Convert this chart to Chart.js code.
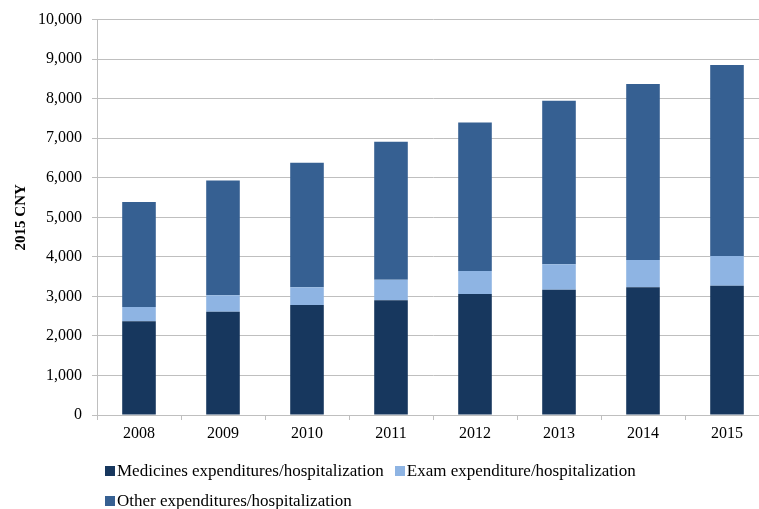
<!DOCTYPE html>
<html>
<head>
<meta charset="utf-8">
<script src="https://cdn.jsdelivr.net/npm/chart.js@4/dist/chart.umd.min.js"></script>
<style>
  html,body{margin:0;padding:0;background:#fff;overflow:hidden}
  .wrap{position:absolute;left:0;top:0;width:770px;height:509px}
  .legend{position:absolute;left:105px;top:461px;width:600px;font-family:"Liberation Serif",serif;font-size:17px;color:#000}
  .legend-item{display:inline-block;margin-right:11px;height:30px;line-height:20px;white-space:nowrap}
  .legend-box{display:inline-block;width:10px;height:10px;margin-right:2px;vertical-align:0px}
</style>
</head>
<body>
<div class="wrap"><canvas id="c" role="img" aria-label="Hospitalization expenditures 2008-2015, 2015 CNY"></canvas></div>
<div class="legend" id="lg"></div>
<script>
const YEARS = ['2008','2009','2010','2011','2012','2013','2014','2015']
const MEDICINES = [2370,2610,2780,2900,3060,3170,3230,3270]
const EXAM = [360,420,450,520,580,640,690,750]
const OTHER = [2660,2900,3150,3490,3760,4140,4450,4830]
const SERIES = ['Medicines expenditures/hospitalization','Exam expenditure/hospitalization','Other expenditures/hospitalization']
const COLORS = ['#17375e','#8eb4e3','#366092']

const gc='#bfbfbf', font='"Liberation Serif", serif'

new Chart(document.getElementById('c'),{
  type:'bar',
  data:{labels:YEARS,datasets:[
    {label:SERIES[0],data:MEDICINES,backgroundColor:COLORS[0]},
    {label:SERIES[1],data:EXAM,backgroundColor:COLORS[1]},
    {label:SERIES[2],data:OTHER,backgroundColor:COLORS[2]},
  ]},
  options:{
    responsive:true, maintainAspectRatio:false, animation:false,
    layout:{padding:{top:17,right:1,left:0,bottom:0}},
    datasets:{bar:{categoryPercentage:1,barPercentage:0.4}},
    plugins:{legend:{display:false},tooltip:{enabled:false}},
    scales:{
      x:{
        stacked:true,
        afterFit:s=>{s.height=94},
        grid:{drawOnChartArea:false,color:gc,tickLength:5},
        border:{color:gc},
        ticks:{color:'#000',font:{family:font,size:16},padding:4}
      },
      y:{
        stacked:true,min:0,max:10000,
        afterFit:s=>{s.width=97},
        grid:{color:gc,tickLength:5},
        border:{color:gc},
        ticks:{stepSize:1000,color:'#000',font:{family:font,size:16},padding:10,
          callback:v=>v.toLocaleString('en-US')},
        title:{display:true,text:'2015 CNY',color:'#000',font:{family:font,size:15,weight:'bold'},padding:{top:12,bottom:12}}
      }
    }
  }
})

document.getElementById('lg').innerHTML = SERIES.map((s,i)=>
  `<span class="legend-item"><span class="legend-box" style="background:${COLORS[i]}"></span>${s}</span>${i===1?'<br>':''}`
).join('')
</script>
</body>
</html>
